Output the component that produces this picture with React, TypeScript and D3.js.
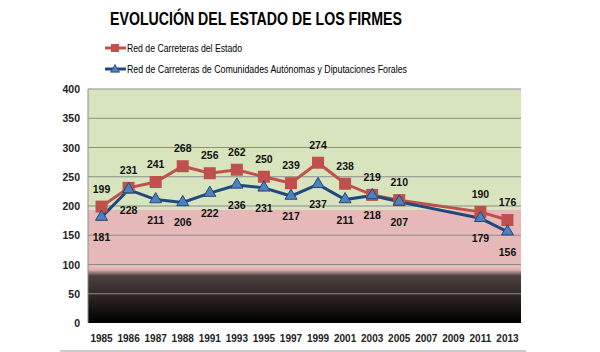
import * as d3 from 'd3';

const years = ['1985', '1986', '1987', '1988', '1991', '1993', '1995', '1997', '1999', '2001', '2003', '2005', '2007', '2009', '2011', '2013'];
const estado: (number | null)[] = [199, 231, 241, 268, 256, 262, 250, 239, 274, 238, 219, 210, null, null, 190, 176];
const autonomicas: (number | null)[] = [181, 228, 211, 206, 222, 236, 231, 217, 237, 211, 218, 207, null, null, 179, 156];
const yTicks = [0, 50, 100, 150, 200, 250, 300, 350, 400];

const W = 600;
const H = 352;
const margin = { top: 89, right: 79, bottom: 29, left: 88 };
const font = "'Liberation Sans', Arial, sans-serif";
const redLine = '#C0504D';
const blueLine = '#1F497D';
const blueMarker = '#4F81BD';

export default function App() {
  const x = d3.scaleBand().domain(years).range([margin.left, W - margin.right]);
  const y = d3.scaleLinear().domain([0, 400]).range([H - margin.bottom, margin.top]);
  const cx = (yr: string) => (x(yr) as number) + x.bandwidth() / 2;

  const pts = (vals: (number | null)[]) =>
    years.map((yr, i) => ({ yr, v: vals[i] })).filter((d) => d.v !== null) as { yr: string; v: number }[];

  const line = d3
    .line<{ yr: string; v: number }>()
    .x((d) => cx(d.yr))
    .y((d) => y(d.v));

  const red = pts(estado);
  const blue = pts(autonomicas);
  const x0 = margin.left;
  const x1 = W - margin.right;

  const tri = (px: number, py: number, s = 6) => `M${px},${py - s}L${px + s},${py + s * 0.7}L${px - s},${py + s * 0.7}Z`;

  return (
    <svg width={W} height={H} style={{ position: 'absolute', left: 0, top: 0, background: '#fff' }} fontFamily={font}>
      <defs>
        <linearGradient id="dark" x1="0" y1="0" x2="0" y2="1">
          <stop offset="0" stopColor="#e2b6b5" />
          <stop offset="0.05" stopColor="#e0b3b2" />
          <stop offset="0.16" stopColor="#4e4040" />
          <stop offset="0.45" stopColor="#352a2a" />
          <stop offset="1" stopColor="#000" />
        </linearGradient>
      </defs>
      <text x={256} y={25} textAnchor="middle" fontSize={18} fontWeight="bold" fill="#000" textLength={292} lengthAdjust="spacingAndGlyphs">
        EVOLUCIÓN DEL ESTADO DE LOS FIRMES
      </text>

      {/* legend */}
      <line x1={105} x2={126} y1={48} y2={48} stroke={redLine} strokeWidth={3} />
      <rect x={111} y={44} width={8} height={8} fill={redLine} />
      <text x={127} y={52} fontSize={10} fill="#000" textLength={115} lengthAdjust="spacingAndGlyphs">Red de Carreteras del Estado</text>
      <line x1={105} x2={126} y1={69} y2={69} stroke={blueLine} strokeWidth={3} />
      <path d={tri(115, 69, 4.5)} fill={blueMarker} stroke={blueLine} strokeWidth={0.8} />
      <text x={127} y={73} fontSize={10} fill="#000" textLength={280} lengthAdjust="spacingAndGlyphs">Red de Carreteras de Comunidades Autónomas y Diputaciones Forales</text>

      {/* background bands */}
      <rect x={x0} width={x1 - x0} y={y(400)} height={y(194) - y(400)} fill="#d7e4bd" />
      <rect x={x0} width={x1 - x0} y={y(194)} height={y(96) - y(194)} fill="#e6b9b8" />
      <rect x={x0} width={x1 - x0} y={y(96)} height={y(0) - y(96)} fill="url(#dark)" />

      {/* grid */}
      {yTicks.slice(1).map((t) => (
        <line key={t} x1={x0} x2={x1} y1={y(t)} y2={y(t)} stroke="#8c8c8c" strokeWidth={1} />
      ))}
      <line x1={x0} x2={x0} y1={y(400)} y2={y(0)} stroke="#8c8c8c" strokeWidth={1} />

      {/* y axis labels */}
      {yTicks.map((t) => (
        <text key={t} x={80} y={y(t) + 4} textAnchor="end" fontSize={10.5} fontWeight="bold" fill="#222">
          {t}
        </text>
      ))}

      {/* x axis labels */}
      {years.map((yr) => (
        <text key={yr} x={cx(yr)} y={342} textAnchor="middle" fontSize={10} fontWeight="bold" fill="#222">
          {yr}
        </text>
      ))}
      <line x1={60} x2={526} y1={351} y2={351} stroke="#999" strokeWidth={1} />

      {/* series */}
      <path d={line(red) as string} fill="none" stroke={redLine} strokeWidth={3} />
      <path d={line(blue) as string} fill="none" stroke={blueLine} strokeWidth={3} />
      {red.map((d) => (
        <rect key={d.yr} x={cx(d.yr) - 6} y={y(d.v) - 6} width={12} height={12} fill={redLine} />
      ))}
      {blue.map((d) => (
        <path key={d.yr} d={tri(cx(d.yr), y(d.v) - 1, 6)} fill={blueMarker} stroke={blueLine} strokeWidth={1} />
      ))}

      {/* data labels */}
      {red.map((d) => (
        <text key={d.yr} x={cx(d.yr)} y={y(d.v) - 14} textAnchor="middle" fontSize={10.5} fontWeight="bold" fill="#111">
          {d.v}
        </text>
      ))}
      {blue.map((d) => (
        <text key={d.yr} x={cx(d.yr)} y={y(d.v) + 24} textAnchor="middle" fontSize={10.5} fontWeight="bold" fill="#111">
          {d.v}
        </text>
      ))}
    </svg>
  );
}
